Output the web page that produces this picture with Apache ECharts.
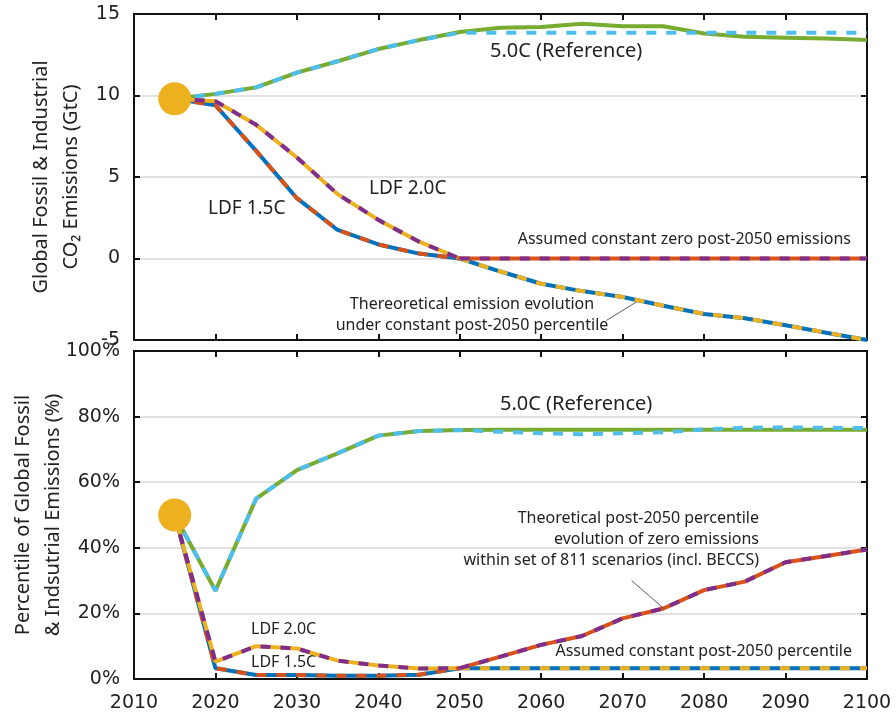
<!DOCTYPE html>
<html>
<head>
<meta charset="utf-8">
<script src="https://cdn.jsdelivr.net/npm/echarts@6/dist/echarts.min.js"></script>
<style>
  html, body { margin: 0; padding: 0; background: #fff; }
  #chart { width: 896px; height: 715px; }
</style>
</head>
<body>
<div id="chart"></div>
<script>
// every 5 years; pathways run 2015..2050, post-2050 tails run 2050..2100
const years = [2015, 2020, 2025, 2030, 2035, 2040, 2045, 2050, 2055, 2060, 2065, 2070, 2075, 2080, 2085, 2090, 2095, 2100];
const yearsPre = [2015, 2020, 2025, 2030, 2035, 2040, 2045, 2050];
const yearsPost = [2050, 2055, 2060, 2065, 2070, 2075, 2080, 2085, 2090, 2095, 2100];

// top panel: emissions (GtC)
const emiRef50 = [9.8, 10.1, 10.5, 11.4, 12.1, 12.85, 13.4, 13.9, 14.15, 14.2, 14.4, 14.25, 14.25, 13.8, 13.6, 13.55, 13.5, 13.4];
const emiRef50Pct = [9.8, 10.1, 10.5, 11.4, 12.1, 12.85, 13.4, 13.85, 13.85, 13.85, 13.85, 13.85, 13.85, 13.85, 13.85, 13.85, 13.85, 13.85];
const emiLdf15 = [9.8, 9.4, 6.6, 3.7, 1.75, 0.86, 0.3, 0];
const emiLdf20 = [9.8, 9.65, 8.2, 6.2, 3.95, 2.37, 1.03, 0];
const emiPctTail = [0, -0.8, -1.55, -2.0, -2.36, -2.9, -3.4, -3.66, -4.1, -4.55, -5.0];
const emiZeroTail = [0, 0, 0, 0, 0, 0, 0, 0, 0, 0, 0];
const emiStart = [[2015, 9.8]];

// bottom panel: percentile (%)
const pctRef50 = [50, 26.9, 55, 63.7, 68.8, 74.2, 75.6, 75.9, 76, 76, 76, 76, 76, 76, 76, 76, 76, 76];
const pctRef50Pct = [50, 26.9, 55, 63.7, 68.8, 74.2, 75.6, 75.9, 75.4, 74.9, 74.6, 74.9, 75.2, 76.1, 76.6, 76.7, 76.6, 76.5];
const pctLdf15 = [50, 3.3, 1.2, 1.2, 1.0, 1.0, 1.3, 3.3];
const pctLdf20 = [50, 5.3, 10.0, 9.3, 5.6, 4.1, 3.2, 3.3];
const pctConstTail = [3.3, 3.3, 3.3, 3.3, 3.3, 3.3, 3.3, 3.3, 3.3, 3.3, 3.3];
const pctZeroTail = [3.3, 6.8, 10.4, 13.1, 18.5, 21.5, 27.1, 29.7, 35.6, 37.5, 39.5];
const pctStart = [[2015, 50]];

const yearTicks = [2010, 2100, 10];
const emiTicks = [-5, 15, 5];
const pctTicks = [0, 100, 20];

const pairs = (xs, vals) => vals.map((v, i) => [xs[i], v]);

const TICK_FONT = 'DejaVu Sans';
const TEXT_FONT = 'Noto Sans';
const C = { green: '#77AC30', sky: '#4DBEEE', blue: '#0072BD', orange: '#D95319', yellow: '#EDB120', purple: '#7E2F8E' };

function line(xs, vals, color, dashed, gi, z) {
  return {
    type: 'line', xAxisIndex: gi * 2, yAxisIndex: gi * 2,
    data: pairs(xs, vals), symbol: 'none', z,
    lineStyle: { color, width: 4, type: dashed ? [10, 10] : 'solid', cap: 'butt' }
  };
}

function xAx(gi, pos, labels) {
  return {
    type: 'value', gridIndex: gi, position: pos,
    min: yearTicks[0], max: yearTicks[1], interval: yearTicks[2],
    axisLine: { show: true, onZero: false, lineStyle: { color: '#111', width: 2 } },
    axisTick: { show: true, inside: true, length: 6, lineStyle: { color: '#111', width: 2 } },
    axisLabel: { show: labels, fontFamily: TICK_FONT, fontSize: 19, color: '#222', margin: 15, formatter: v => String(v) },
    splitLine: { show: false }
  };
}

function yAx(gi, pos, ticks, fmt, name, gap) {
  return {
    type: 'value', gridIndex: gi, position: pos,
    min: ticks[0], max: ticks[1], interval: ticks[2],
    axisLine: { show: true, onZero: false, lineStyle: { color: '#111', width: 2 } },
    axisTick: { show: true, inside: true, length: 6, lineStyle: { color: '#111', width: 2 } },
    axisLabel: { show: pos === 'left', fontFamily: TICK_FONT, fontSize: 19, color: '#222', margin: 14, formatter: fmt },
    splitLine: { show: pos === 'left', lineStyle: { color: '#d9d9d9', width: 1.5 } },
    name: pos === 'left' ? name : '', nameLocation: 'middle', nameGap: gap, nameMoveOverlap: false,
    nameTextStyle: { fontFamily: TEXT_FONT, fontSize: 20, color: '#222', lineHeight: 30 }
  };
}

const leader = (from, to) => ({
  silent: true, symbol: 'none', label: { show: false },
  lineStyle: { color: '#333', width: 0.8, type: 'solid' },
  data: [[{ coord: from }, { coord: to }]]
});

const chart = echarts.init(document.getElementById('chart'));

chart.setOption({
  animation: false,
  backgroundColor: '#fff',
  grid: [
    { left: 134, right: 29, top: 14, height: 326, containLabel: false, outerBoundsMode: 'none' },
    { left: 134, right: 29, top: 351, height: 328, containLabel: false, outerBoundsMode: 'none' }
  ],
  xAxis: [xAx(0, 'bottom', false), xAx(0, 'top', false), xAx(1, 'bottom', true), xAx(1, 'top', false)],
  yAxis: [
    yAx(0, 'left', emiTicks, '{value}', 'Global Fossil & Industrial\nCO\u2082 Emissions (GtC)', 48),
    yAx(0, 'right', emiTicks, '{value}', '', 0),
    yAx(1, 'left', pctTicks, '{value}%', 'Percentile of Global Fossil\n& Indsutrial Emissions (%)', 66),
    yAx(1, 'right', pctTicks, '{value}%', '', 0)
  ],
  series: [
    line(years, emiRef50, C.green, false, 0, 2),
    line(years, emiRef50Pct, C.sky, true, 0, 3),
    line(yearsPre, emiLdf15, C.blue, false, 0, 4),
    line(yearsPre, emiLdf15, C.orange, true, 0, 5),
    line(yearsPre, emiLdf20, C.yellow, false, 0, 4),
    line(yearsPre, emiLdf20, C.purple, true, 0, 5),
    Object.assign(line(yearsPost, emiPctTail, C.blue, false, 0, 4), { markLine: leader([2068, -3.8], [2072, -2.57]) }),
    line(yearsPost, emiPctTail, C.yellow, true, 0, 5),
    line(yearsPost, emiZeroTail, C.orange, false, 0, 4),
    line(yearsPost, emiZeroTail, C.purple, true, 0, 5),
    { type: 'scatter', xAxisIndex: 0, yAxisIndex: 0, data: emiStart, symbolSize: 33, itemStyle: { color: C.yellow, opacity: 1 }, z: 10 },

    line(years, pctRef50, C.green, false, 1, 2),
    line(years, pctRef50Pct, C.sky, true, 1, 3),
    line(yearsPre, pctLdf15, C.blue, false, 1, 4),
    line(yearsPre, pctLdf15, C.orange, true, 1, 5),
    line(yearsPre, pctLdf20, C.yellow, false, 1, 4),
    line(yearsPre, pctLdf20, C.purple, true, 1, 5),
    line(yearsPost, pctConstTail, C.blue, false, 1, 4),
    line(yearsPost, pctConstTail, C.yellow, true, 1, 5),
    Object.assign(line(yearsPost, pctZeroTail, C.orange, false, 1, 4), { markLine: leader([2071.1, 30.0], [2075, 21.6]) }),
    line(yearsPost, pctZeroTail, C.purple, true, 1, 5),
    { type: 'scatter', xAxisIndex: 2, yAxisIndex: 2, data: pctStart, symbolSize: 33, itemStyle: { color: C.yellow, opacity: 1 }, z: 10 }
  ],
  graphic: [
    { type: 'text', left: 490, top: 41, style: { text: '5.0C (Reference)', font: '20px "Noto Sans"', fill: '#222' } },
    { type: 'text', left: 369, top: 179, style: { text: 'LDF 2.0C', font: '19px "Noto Sans"', fill: '#222' } },
    { type: 'text', left: 208, top: 199, style: { text: 'LDF 1.5C', font: '19px "Noto Sans"', fill: '#222' } },
    { type: 'text', right: 45, top: 231, style: { text: 'Assumed constant zero post-2050 emissions', font: '16px "Noto Sans"', fill: '#222' } },
    { type: 'text', x: 472, y: 294, style: { text: 'Thereoretical emission evolution\nunder constant post-2050 percentile', font: '16px "Noto Sans"', lineHeight: 21, align: 'center', fill: '#222' } },

    { type: 'text', left: 500, top: 394, style: { text: '5.0C (Reference)', font: '20px "Noto Sans"', fill: '#222' } },
    { type: 'text', x: 759, y: 508, style: { text: 'Theoretical post-2050 percentile\nevolution of zero emissions\nwithin set of 811 scenarios (incl. BECCS)', font: '16px "Noto Sans"', lineHeight: 21, align: 'right', fill: '#222' } },
    { type: 'text', left: 251, top: 621, style: { text: 'LDF 2.0C', font: '16px "Noto Sans"', fill: '#222' } },
    { type: 'text', left: 251, top: 654, style: { text: 'LDF 1.5C', font: '16px "Noto Sans"', fill: '#222' } },
    { type: 'text', right: 44, top: 643, style: { text: 'Assumed constant post-2050 percentile', font: '16px "Noto Sans"', fill: '#222' } }
  ]
});
</script>
</body>
</html>
